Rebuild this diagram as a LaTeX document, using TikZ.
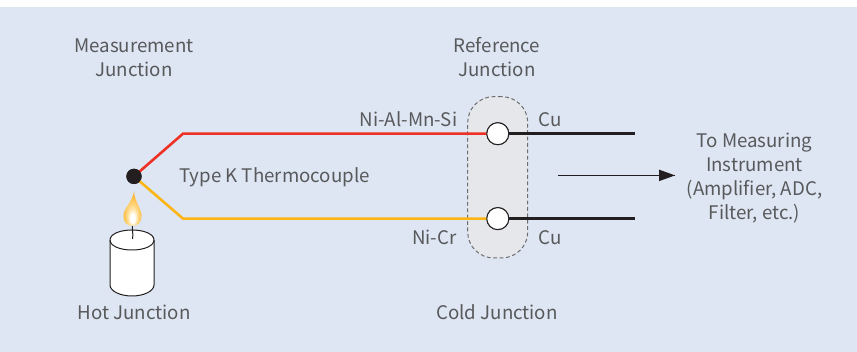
\documentclass[tikz,border=0pt]{standalone}
\usepackage{fontspec}
\setmainfont{Noto Sans CJK SC}
\definecolor{bgc}{HTML}{DEE6F3}
\definecolor{txt}{HTML}{58595B}
\definecolor{redw}{HTML}{EE3124}
\definecolor{yelw}{HTML}{FDB515}
\definecolor{blk}{HTML}{231F20}
\definecolor{zone}{HTML}{E5E7EB}
\definecolor{dashc}{HTML}{6D6E71}
\definecolor{flamea}{rgb}{1,0.87,0.58}
\definecolor{flameb}{rgb}{0.99,0.73,0.22}
\definecolor{flamec}{rgb}{0.97,0.63,0.11}
\pgfdeclareradialshading{flameshade}{\pgfpoint{0bp}{-16bp}}{%
  color(0bp)=(white);
  color(6bp)=(white);
  color(14bp)=(flamea);
  color(26bp)=(flameb);
  color(50bp)=(flamec)}
\tikzset{
  lab/.style={text=txt,font=\fontsize{18.7}{24}\selectfont,align=center,inner sep=0pt},
  wire/.style={line width=2.6pt},
  joint/.style={circle,draw=blk,fill=white,line width=1pt,minimum size=22pt,inner sep=0pt},
  hotdot/.style={circle,fill=blk,minimum size=15.3pt,inner sep=0pt},
}
\begin{document}
\begin{tikzpicture}[x=1pt,y=-1pt]
\useasboundingbox (0,0) rectangle (857,352);
\fill[white] (0,0) rectangle (857,352);
\fill[bgc] (0,7) rectangle (857,352);
% reference zone
\node[draw=dashc,fill=zone,dash pattern=on 3.8pt off 2.6pt,line width=1pt,rounded corners=26pt,minimum width=60pt,minimum height=161.3pt,inner sep=0pt] (zone) at (497.7,177.3) {};
% nodes
\node[hotdot] (hot) at (134,176.4) {};
\node[joint] (j1) at (497.8,133.7) {};
\node[joint] (j2) at (497.8,218.6) {};
\coordinate (r1) at (183,133.7);
\coordinate (y1) at (183,218.6);
\coordinate (e1) at (635,133.7);
\coordinate (e2) at (635,218.6);
\draw[wire,redw,line join=miter] (hot.center) -- (r1) -- (j1.center);
\draw[wire,yelw,line join=miter] (hot.center) -- (y1) -- (j2.center);
\draw[wire,blk] (j1.center) -- (e1);
\draw[wire,blk] (j2.center) -- (e2);
\node[hotdot] at (hot) {};
\node[joint] at (j1) {};
\node[joint] at (j2) {};
% arrow
\coordinate (a1) at (558,175.4);
\coordinate (a2) at (675,175.4);
\draw[blk,line width=1pt] (a1) -- (a2);
\fill[blk] (a2) -- (659,169.6) -- (659,181.2) -- cycle;
% candle
\draw[blk,line width=1pt,fill=white] (110,240) -- (110,285) .. controls (110,291) and (120,296) .. (132,296) .. controls (144,296) and (154,291) .. (154,285) -- (154,240) .. controls (154,234) and (144,230) .. (132,230) .. controls (120,230) and (110,234) .. (110,240) -- cycle;
\draw[blk,line width=1pt] (110,240) .. controls (110,246) and (120,250) .. (132,250) .. controls (144,250) and (154,246) .. (154,240);
% flame
\path[shading=flameshade] (134,191.5) .. controls (135,203) and (141.5,208) .. (141.5,216) .. controls (141.5,222) and (138,226) .. (132.5,226) .. controls (127,226) and (123.5,222) .. (123.5,216) .. controls (123.5,208) and (132,203) .. (134,191.5) -- cycle;
\draw[blk,line width=1pt] (132.5,226) .. controls (132,230) and (133.5,234) .. (132.5,239);
% labels
\node[lab] (t1) at (134,57.5) {Measurement\\Junction};
\node[lab] (t2) at (497,57.2) {Reference\\Junction};
\node[lab] (t3) at (274.5,176.8) {Type K Thermocouple};
\node[lab] (t4) at (408.5,119.5) {Ni-Al-Mn-Si};
\node[lab] (t5) at (550,119.5) {Cu};
\node[lab] (t6) at (434.5,237.5) {Ni-Cr};
\node[lab] (t7) at (550,237.5) {Cu};
\node[lab] (t8) at (134,312.5) {Hot Junction};
\node[lab] (t9) at (497,312.3) {Cold Junction};
\node[lab] (t10) at (754.5,178) {To Measuring\\Instrument\\(Amplifier, ADC,\\Filter, etc.)};
\end{tikzpicture}
\end{document}
